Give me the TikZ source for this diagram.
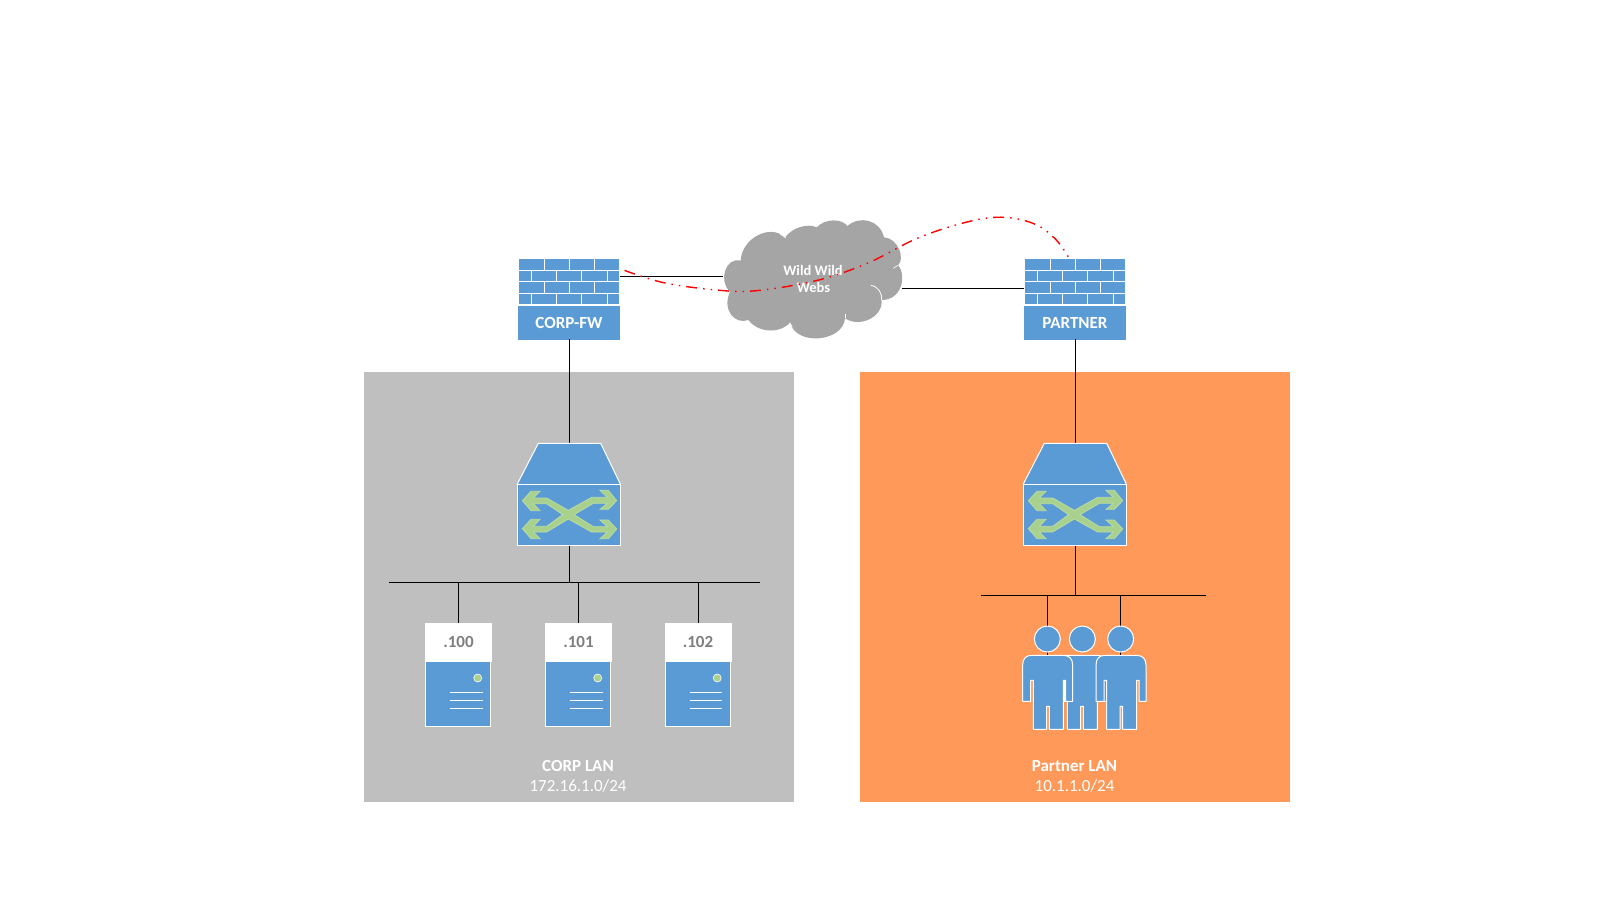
\documentclass[tikz,border=0pt]{standalone}
\usepackage{fontspec}
\setmainfont{Carlito}
\definecolor{iconblue}{HTML}{5B9BD5}
\definecolor{zonegray}{HTML}{BFBFBF}
\definecolor{zoneorange}{HTML}{FF9959}
\definecolor{cloudgray}{HTML}{A5A5A5}
\definecolor{ledgreen}{HTML}{A9D18E}
\definecolor{srvtext}{HTML}{7F7F7F}
\tikzset{
  wire/.style={draw=black,line width=1pt},
  zone/.style={inner sep=0pt,minimum width=430pt,minimum height=430.5pt},
  fwlabel/.style={fill=iconblue,inner sep=0pt,minimum width=102pt,minimum height=34pt,text=white,font=\fontsize{17}{20}\selectfont\bfseries},
  srvtop/.style={fill=white,inner sep=0pt,minimum width=67pt,minimum height=38.7pt,text=srvtext,font=\fontsize{17}{20}\selectfont\bfseries},
  srvbody/.style={fill=iconblue,draw=white,line width=.8pt,inner sep=0pt,minimum width=65pt,minimum height=65.5pt},
  swbody/.style={fill=iconblue,draw=white,line width=1pt,inner sep=0pt,minimum width=103pt,minimum height=61.3pt},
  lantitle/.style={text=white,inner sep=0pt,font=\fontsize{17}{20}\selectfont\bfseries},
  lansub/.style={text=white,inner sep=0pt,font=\fontsize{17}{20}\selectfont},
  cloudtext/.style={text=white,inner sep=0pt,font=\fontsize{14.5}{17}\selectfont\bfseries},
  arrowglyph/.style={fill=ledgreen,draw=ledgreen!80!white,line width=.8pt,line join=miter},
  persona/.style={fill=iconblue,draw=white,line width=1pt,line join=round},
  tunnel/.style={draw=red,line width=1.4pt,dash pattern=on 11pt off 6pt on 1.5pt off 6pt on 1.5pt off 6pt},
}
% firewall bricks: name, x offset
\newcommand{\brickwall}[2]{%
  \node[inner sep=0pt,minimum width=100pt,minimum height=45.3pt,fill=iconblue] (#1) at (569+#2,281.6) {};
  \begin{scope}[shift={(500+#2,250)},x=0.33333pt,y=-0.33333pt,draw=white,line width=1pt]
    \draw (57,61.5)--(357,61.5) (57,94.5)--(357,94.5) (57,129.5)--(357,129.5);
    \draw (133.5,27)--(133.5,61.5) (208.5,27)--(208.5,61.5) (283.5,27)--(283.5,61.5);
    \draw (133.5,94.5)--(133.5,129.5) (208.5,94.5)--(208.5,129.5) (283.5,94.5)--(283.5,129.5);
    \draw (94.5,61.5)--(94.5,94.5) (169.5,61.5)--(169.5,94.5) (244.5,61.5)--(244.5,94.5) (322.5,61.5)--(322.5,94.5);
    \draw (94.5,129.5)--(94.5,163) (169.5,129.5)--(169.5,163) (244.5,129.5)--(244.5,163) (322.5,129.5)--(322.5,163);
  \end{scope}}
% switch: name, x offset
\newcommand{\switchicon}[2]{%
  \fill[iconblue] (538.3+#2,443.3)--(600.7+#2,443.3)--(620.3+#2,484)--(517.3+#2,484)--cycle;
  \draw[white,line width=1pt,line join=round] (517.3+#2,484)--(538.3+#2,443.3)--(600.7+#2,443.3)--(620.3+#2,484);
  \node[swbody] (#1) at (568.8+#2,514.65) {};
  \begin{scope}[shift={(500+#2,430)},x=0.33333pt,y=-0.33333pt]
    \draw[arrowglyph] (67,212)--(93,184)--(120,184)--(100,204)--(140,204)--(205,241)--(275,202)--(322,202)--(300,181)--(325,181)--(350,212)--(325,238)--(300,238)--(322,220)--(280,220)--(222,254)--(280,290)--(322,290)--(300,270)--(325,270)--(350,297)--(325,326)--(300,326)--(322,306)--(275,306)--(205,267)--(140,306)--(100,306)--(120,326)--(93,326)--(67,296)--(93,268)--(120,268)--(100,289)--(140,289)--(188,254)--(140,221)--(100,221)--(120,242)--(93,242)--cycle;
  \end{scope}}
% server: name, x offset, text
\newcommand{\servericon}[3]{%
  \node[srvtop] (#1) at (458.5+#2,642.35) {\raisebox{.8pt}{#3}};
  \node[srvbody] (#1b) at (458+#2,693.75) {};
  \fill[ledgreen,draw=white,line width=.6pt] (477.7+#2,678) circle (4pt);
  \draw[white,line width=1.6pt] (450.3+#2,692.3)--(482.7+#2,692.3) (450.3+#2,700.3)--(482.7+#2,700.3) (450.3+#2,708.3)--(482.7+#2,708.3);}
% person: name, x offset in third-px, head extra
\newcommand{\person}[3]{%
  \begin{scope}[shift={(1000,610)},x=0.33333pt,y=-0.33333pt]
    \draw[persona] (68+#2,165) .. controls (68+#2,146) and (78+#2,136) .. (95+#2,136) -- (190+#2,136) .. controls (207+#2,136) and (218+#2,146) .. (218+#2,165) -- (218+#2,274) -- (197+#2,274) -- (197+#2,211) -- (190+#2,211) -- (190+#2,358) -- (148+#2,358) -- (148+#2,289) -- (140+#2,289) -- (140+#2,358) -- (100+#2,358) -- (100+#2,211) -- (92+#2,211) -- (92+#2,274) -- (68+#2,274) -- cycle;
    \node[circle,fill=iconblue,draw=white,line width=1pt,inner sep=0pt,minimum size=26pt] (#1) at (142+#2+#3,87) {};
  \end{scope}}
\begin{document}
\begin{tikzpicture}[x=1pt,y=-1pt]
\useasboundingbox (0,0) rectangle (1600,900);
\fill[white] (0,0) rectangle (1600,900);
% zones
\node[zone,fill=zonegray] (corpzone) at (579,586.75) {};
\node[zone,fill=zoneorange] (partnerzone) at (1075,586.75) {};
% anchors
\coordinate (busAl) at (389,582.7);
\coordinate (busAr) at (759.5,582.7);
\coordinate (busBl) at (981,595.5);
\coordinate (busBr) at (1205.5,595.5);
\coordinate (cloudW) at (723,276.4);
\coordinate (cloudE) at (902,288);
\coordinate (fwAport) at (620.4,276.4);
\coordinate (fwBport) at (1024,288);
\coordinate (swAtop) at (569.4,443.3);
\coordinate (swBtop) at (1075.4,443.3);
\coordinate (bodyL) at (1047.3,655);
\coordinate (bodyR) at (1120.3,655);
% cloud
\begin{scope}[shift={(710,210)},x=0.33333pt,y=-0.33333pt]
  \fill[cloudgray] (60,245)
    .. controls (25,215) and (45,140) .. (92,152)
    .. controls (95,85) and (180,40) .. (225,82)
    .. controls (250,50) and (295,40) .. (320,52)
    .. controls (345,25) and (395,25) .. (412,48)
    .. controls (450,15) and (510,30) .. (522,82)
    .. controls (565,85) and (585,145) .. (565,165)
    .. controls (590,200) and (575,270) .. (515,270)
    .. controls (520,320) and (450,355) .. (405,325)
    .. controls (400,395) and (260,410) .. (240,338)
    .. controls (205,375) and (140,365) .. (115,330)
    .. controls (75,345) and (35,300) .. (60,245) -- cycle;
  \draw[white,line width=.8pt] (483,226) .. controls (505,230) and (517,250) .. (515,270);
  \draw[white,line width=.6pt] (550,175) -- (565,165);
  \draw[white,line width=.6pt] (405,312) -- (405,325);
  \draw[white,line width=.6pt] (240,338) -- (247,352);
  \draw[white,line width=.6pt] (210,72) -- (228,84);
\end{scope}
\node[cloudtext] (cloudline1) at (813,270.7) {Wild Wild};
\node[cloudtext] (cloudline2) at (813.5,287.7) {Webs};
% devices
\brickwall{bricksA}{0}
\brickwall{bricksB}{506}
\node[fwlabel] (fwA) at (569,323) {\raisebox{1pt}{CORP-FW}};
\node[fwlabel] (fwB) at (1075,323) {\raisebox{1pt}{PARTNER}};
% wires
\draw[wire] (fwAport) -- (cloudW);
\draw[wire] (cloudE) -- (fwBport);
\draw[wire] ([yshift=1pt]fwA.south -| swAtop) -- (swAtop);
\draw[wire] ([yshift=1pt]fwB.south -| swBtop) -- (swBtop);
\draw[wire] (busAl) -- (busAr);
\draw[wire] (busBl) -- (busBr);
\switchicon{swA}{0}
\switchicon{swB}{506}
\draw[wire] (swA.south -| swAtop) -- (swAtop |- busAl);
\draw[wire] (swB.south -| swBtop) -- (swBtop |- busBl);
\servericon{srvA}{0}{.100}
\servericon{srvB}{120}{.101}
\servericon{srvC}{239.5}{.102}
\draw[wire] (srvA.north |- busAl) -- (srvA.north);
\draw[wire] (srvB.north |- busAl) -- (srvB.north);
\draw[wire] (srvC.north |- busAl) -- (srvC.north);
\draw[wire] (bodyL |- busBl) -- (bodyL);
\draw[wire] (bodyR |- busBl) -- (bodyR);
\person{headM}{102}{3}
\person{headL}{0}{0}
\person{headR}{220}{0}
% LAN captions
\node[lantitle] (corptitle) at (578,765.8) {CORP LAN};
\node[lansub] (corpnet) at (578,785.8) {172.16.1.0/24};
\node[lantitle] (partnertitle) at (1074.5,765.8) {Partner LAN};
\node[lansub] (partnernet) at (1074.5,785.8) {10.1.1.0/24};
% tunnel
\draw[tunnel] plot[smooth,tension=.6] coordinates {(624.5,270.4) (663.3,282.6) (714.3,289.8) (755,290.8) (816.3,280.6) (867.3,263.3) (918.4,237.8) (969.4,221.4) (1005,217.3) (1035.7,224.5) (1056.1,239.8) (1068.4,257.1)};
\end{tikzpicture}
\end{document}
